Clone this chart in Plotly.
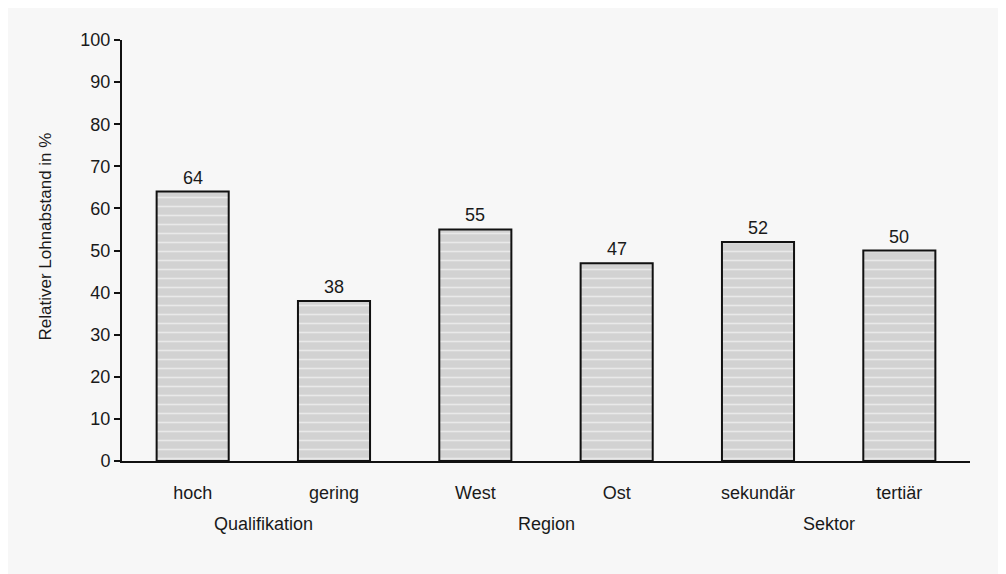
import plotly.graph_objects as go

categories = ["hoch", "gering", "West", "Ost", "sekundär", "tertiär"]
values = [64, 38, 55, 47, 52, 50]
value_labels = ["64", "38", "55", "47", "52", "50"]
groups = ["Qualifikation", "Region", "Sektor"]
group_pos = [0.5, 2.5, 4.5]
y_ticks = [0, 10, 20, 30, 40, 50, 60, 70, 80, 90, 100]

FONT = "Liberation Sans, Arial, sans-serif"
BG = "#f7f7f7"
TXT = "#1a1a1a"

fig = go.Figure()
fig.add_trace(go.Bar(
    x=list(range(len(categories))),
    y=values,
    width=0.51,
    marker=dict(
        color="#d2d2d2",
        line=dict(color="#111111", width=2),
        pattern=dict(shape="-", fgcolor="#ffffff", bgcolor="#d2d2d2",
                     size=9, solidity=0.18),
    ),
    hoverinfo="skip",
))

for i, (v, t) in enumerate(zip(values, value_labels)):
    fig.add_annotation(x=i, y=v, text=t, showarrow=False, xref="x", yref="y",
                       yanchor="bottom", yshift=2,
                       font=dict(family=FONT, size=18, color=TXT))

for g, p in zip(groups, group_pos):
    fig.add_annotation(x=p, y=0, text=g, showarrow=False, xref="x", yref="paper",
                       yanchor="top", yshift=-51,
                       font=dict(family=FONT, size=18, color=TXT))

fig.add_annotation(x=0, y=0.5, xref="paper", yref="paper", text="Relativer Lohnabstand in %",
                   textangle=-90, showarrow=False, xanchor="center", yanchor="middle",
                   xshift=-77, yshift=14,
                   font=dict(family=FONT, size=17, color=TXT))

fig.update_layout(
    width=1006, height=574,
    margin=dict(l=114, r=44, t=32, b=121),
    paper_bgcolor=BG, plot_bgcolor=BG,
    showlegend=False,
    font=dict(family=FONT, size=18, color=TXT),
    xaxis=dict(
        tickmode="array", tickvals=list(range(len(categories))), ticktext=categories,
        range=[-0.5, len(categories) - 0.5],
        showgrid=False, zeroline=False, showline=True, linecolor="#111111", linewidth=2,
        ticks="", ticklabelstandoff=14,
        tickfont=dict(family=FONT, size=18, color=TXT),
    ),
    yaxis=dict(
        range=[0, 100], tickmode="array", tickvals=y_ticks,
        showgrid=False, zeroline=False, showline=True, linecolor="#111111", linewidth=2,
        ticks="outside", ticklen=6, tickwidth=2, tickcolor="#111111",
        tickfont=dict(family=FONT, size=18, color=TXT),
    ),
)

fig.write_html("out.html")
